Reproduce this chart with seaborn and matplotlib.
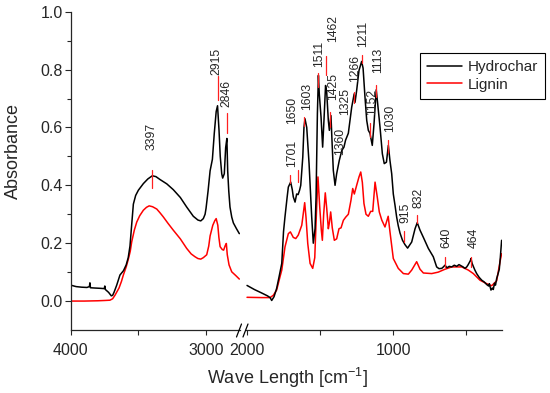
import numpy as np
import pandas as pd
import matplotlib
matplotlib.use("Agg")
import matplotlib.pyplot as plt
import seaborn as sns

sns.set_style("ticks")
plt.rcParams['font.family'] = ['Liberation Sans', 'DejaVu Sans']
plt.rcParams['mathtext.default'] = 'regular'

# ---------------- data : left part (4000 - 2750 cm-1) ----------------
hyd_left_wn = [4000, 3960, 3920, 3880, 3862, 3858, 3854, 3820, 3780, 3752, 3748, 3744,
               3720, 3700, 3690, 3680, 3660, 3636, 3610, 3590, 3575, 3562, 3550, 3537,
               3520, 3500, 3463, 3430, 3397, 3370, 3340, 3290, 3242, 3190, 3143, 3094,
               3060, 3039, 3020, 3007, 3000, 2985, 2970, 2953, 2939, 2925, 2915, 2904,
               2895, 2884, 2877, 2865, 2855, 2846, 2840, 2832, 2823, 2810, 2798, 2775, 2754]
hyd_left_abs = [0.055, 0.050, 0.048, 0.047, 0.050, 0.063, 0.046, 0.045, 0.044, 0.043, 0.052, 0.040,
                0.030, 0.018, 0.020, 0.030, 0.055, 0.090, 0.105, 0.125, 0.150, 0.190, 0.260, 0.335,
                0.365, 0.383, 0.406, 0.422, 0.433, 0.430, 0.420, 0.405, 0.385, 0.358, 0.325, 0.293,
                0.280, 0.277, 0.285, 0.300, 0.320, 0.380, 0.450, 0.490, 0.580, 0.655, 0.675, 0.590,
                0.500, 0.440, 0.425, 0.440, 0.530, 0.562, 0.450, 0.380, 0.325, 0.290, 0.270, 0.250, 0.233]

lig_left_wn = [4000, 3900, 3800, 3750, 3710, 3690, 3673, 3655, 3643, 3625, 3611, 3590, 3574,
               3560, 3549, 3530, 3512, 3490, 3463, 3440, 3420, 3395, 3364, 3340, 3316, 3280,
               3242, 3190, 3143, 3110, 3081, 3060, 3039, 3020, 2995, 2980, 2970, 2950, 2935,
               2925, 2913, 2905, 2896, 2880, 2870, 2858, 2850, 2843, 2830, 2810, 2780, 2754]
lig_left_abs = [0.000, 0.000, 0.001, 0.002, 0.003, 0.008, 0.020, 0.035, 0.045, 0.068, 0.090, 0.118, 0.145,
                0.172, 0.205, 0.245, 0.273, 0.295, 0.314, 0.324, 0.329, 0.326, 0.318, 0.305, 0.291, 0.268,
                0.245, 0.215, 0.182, 0.163, 0.153, 0.147, 0.145, 0.150, 0.160, 0.190, 0.225, 0.262, 0.278,
                0.285, 0.262, 0.220, 0.188, 0.178, 0.176, 0.192, 0.199, 0.160, 0.125, 0.101, 0.088, 0.076]

# ---------------- data : right part (2000 - 250 cm-1) ----------------
hyd_right_wn = [2000, 1950, 1900, 1860, 1842, 1831, 1815, 1797, 1780, 1762, 1750, 1740, 1725, 1717,
                1701, 1690, 1683, 1671, 1660, 1650, 1640, 1632, 1618, 1610, 1603, 1591, 1575, 1557,
                1546, 1534, 1527, 1518, 1511, 1505, 1493, 1482, 1473, 1462, 1454, 1443, 1436, 1425,
                1418, 1409, 1397, 1386, 1368, 1351, 1336, 1325, 1306, 1283, 1266, 1260, 1249, 1233,
                1215, 1205, 1192, 1180, 1169, 1158, 1142, 1130, 1115, 1105, 1089, 1073, 1060, 1045,
                1032, 1021, 1009, 998, 986, 975, 964, 952, 935, 918, 900, 872, 849, 834, 815, 792,
                758, 724, 701, 685, 666, 655, 644, 630, 615, 598, 580, 564, 548, 534, 520, 507, 495,
                486, 470, 466, 458, 450, 440, 427, 410, 392, 375, 358, 345, 340, 329, 320, 313, 305,
                298, 290, 280, 272, 265, 256]
hyd_right_abs = [0.054, 0.040, 0.028, 0.018, 0.012, 0.002, 0.015, 0.044, 0.085, 0.130, 0.240, 0.291, 0.360, 0.394,
                 0.411, 0.385, 0.360, 0.342, 0.370, 0.368, 0.383, 0.400, 0.498, 0.600, 0.630, 0.600, 0.475, 0.291,
                 0.200, 0.250, 0.360, 0.647, 0.780, 0.716, 0.636, 0.532, 0.624, 0.745, 0.720, 0.624, 0.590, 0.641,
                 0.555, 0.452, 0.400, 0.440, 0.486, 0.520, 0.532, 0.556, 0.580, 0.670, 0.716, 0.687, 0.728, 0.797,
                 0.828, 0.805, 0.705, 0.624, 0.590, 0.580, 0.538, 0.613, 0.730, 0.682, 0.601, 0.509, 0.475, 0.480,
                 0.538, 0.486, 0.440, 0.370, 0.330, 0.290, 0.260, 0.235, 0.210, 0.195, 0.183, 0.204, 0.250, 0.271, 0.245, 0.220,
                 0.182, 0.153, 0.118, 0.112, 0.113, 0.118, 0.124, 0.115, 0.120, 0.118, 0.124, 0.120, 0.126, 0.122, 0.118, 0.113, 0.118,
                 0.125, 0.140, 0.147, 0.130, 0.120, 0.108, 0.095, 0.082, 0.072, 0.066, 0.057, 0.052, 0.060, 0.038, 0.045, 0.040, 0.062,
                 0.055, 0.078, 0.095, 0.110, 0.150, 0.210]

lig_right_wn = [2000, 1900, 1842, 1820, 1797, 1774, 1762, 1740, 1717, 1703, 1683, 1666, 1649, 1625,
                1605, 1596, 1584, 1568, 1550, 1536, 1523, 1514, 1502, 1491, 1484, 1475, 1464, 1454,
                1443, 1436, 1427, 1416, 1402, 1386, 1370, 1356, 1340, 1324, 1306, 1288, 1276, 1265,
                1249, 1233, 1221, 1210, 1199, 1185, 1169, 1153, 1139, 1123, 1108, 1094, 1077, 1055,
                1033, 1021, 998, 964, 929, 895, 872, 838, 815, 792, 735, 690, 644, 598, 529, 484,
                450, 404, 358, 324, 290, 267, 256]
lig_right_abs = [0.013, 0.012, 0.012, 0.020, 0.038, 0.084, 0.107, 0.187, 0.233, 0.239, 0.220, 0.216, 0.228, 0.262,
                 0.340, 0.290, 0.199, 0.130, 0.113, 0.150, 0.325, 0.429, 0.325, 0.245, 0.210, 0.300, 0.374, 0.320,
                 0.250, 0.270, 0.308, 0.253, 0.210, 0.215, 0.250, 0.253, 0.279, 0.290, 0.300, 0.348, 0.389, 0.370,
                 0.400, 0.429, 0.446, 0.410, 0.337, 0.300, 0.293, 0.310, 0.310, 0.411, 0.360, 0.308, 0.280, 0.256,
                 0.293, 0.240, 0.147, 0.113, 0.095, 0.093, 0.107, 0.136, 0.110, 0.097, 0.095, 0.100, 0.110, 0.118, 0.118, 0.107,
                 0.095, 0.072, 0.060, 0.053, 0.070, 0.136, 0.164]

# ---------------- peak labels ----------------
left_labels = ['3397', '2915', '2846']
left_text_wn = [3401, 2921, 2847]
left_text_y = [0.522, 0.781, 0.671]
left_mark_lo = [0.391, 0.695, 0.581]
left_mark_hi = [0.453, 0.778, 0.650]

right_labels = ['1701', '1650', '1603', '1511', '1462', '1425', '1360', '1325', '1266',
                '1211', '1152', '1113', '1030', '915', '832', '640', '464']
right_text_wn = [1694, 1694, 1591, 1505, 1409, 1409, 1363, 1329, 1260,
                 1208, 1146, 1101, 1021, 913, 827, 632, 450]
right_text_y = [0.463, 0.612, 0.660, 0.809, 0.895, 0.695, 0.505, 0.643, 0.757,
                0.878, 0.643, 0.788, 0.584, 0.270, 0.321, 0.183, 0.183]
right_mark_wn = [1703, 1653, 1610, 1516, 1459, 1432, None, None, 1267,
                 1214, 1158, 1118, 1034, 923, 834, 644, 468]
right_mark_lo = [0.408, 0.411, 0.605, 0.740, 0.781, 0.601, None, None, 0.684,
                 0.823, 0.567, 0.705, 0.512, 0.204, 0.270, 0.118, 0.118]
right_mark_hi = [0.436, 0.453, 0.636, 0.788, 0.847, 0.653, None, None, 0.722,
                 0.850, 0.615, 0.747, 0.557, 0.242, 0.297, 0.152, 0.152]

# ---------------- figure ----------------
W, H = 550, 393
fig = plt.figure(figsize=(W / 100, H / 100), dpi=100)


def px_box(x0, x1, y0, y1):
    return [x0 / W, 1 - y1 / H, (x1 - x0) / W, (y1 - y0) / H]


ax_l = fig.add_axes(px_box(70.7, 240, 11.7, 330))
ax_r = fig.add_axes(px_box(246, 502.5, 11.7, 330))

df_hl = pd.DataFrame({'wn': hyd_left_wn, 'abs': hyd_left_abs})
df_ll = pd.DataFrame({'wn': lig_left_wn, 'abs': lig_left_abs})
df_hr = pd.DataFrame({'wn': hyd_right_wn, 'abs': hyd_right_abs})
df_lr = pd.DataFrame({'wn': lig_right_wn, 'abs': lig_right_abs})

sns.lineplot(data=df_ll, x='wn', y='abs', ax=ax_l, color='#ff0000', lw=1.1,
             estimator=None, sort=False)
sns.lineplot(data=df_hl, x='wn', y='abs', ax=ax_l, color='black', lw=1.1,
             estimator=None, sort=False)
sns.lineplot(data=df_lr, x='wn', y='abs', ax=ax_r, color='#ff0000', lw=1.1,
             estimator=None, sort=False, label='Lignin')
sns.lineplot(data=df_hr, x='wn', y='abs', ax=ax_r, color='black', lw=1.1,
             estimator=None, sort=False, label='Hydrochar')

# peak annotations
for lab, tx, ty, lo, hi in zip(left_labels, left_text_wn, left_text_y, left_mark_lo, left_mark_hi):
    ax_l.plot([int(lab), int(lab)], [lo, hi], color='#ff2020', lw=0.9)
    ax_l.text(tx, ty, lab, rotation=90, ha='center', va='bottom', fontsize=8.8)

for lab, tx, ty, mx, lo, hi in zip(right_labels, right_text_wn, right_text_y,
                                   right_mark_wn, right_mark_lo, right_mark_hi):
    if mx is not None:
        ax_r.plot([mx, mx], [lo, hi], color='#ff2020', lw=0.9)
    ax_r.text(tx, ty, lab, rotation=90, ha='center', va='bottom', fontsize=8.8)

# axes setup
ax_l.set_xlim(4000, 2749)
ax_r.set_xlim(2007, 250)
for ax in (ax_l, ax_r):
    ax.set_ylim(-0.1, 1.0)
    ax.set_xlabel('')
    ax.set_ylabel('')
    ax.spines['top'].set_visible(False)
    ax.spines['right'].set_visible(False)
    ax.spines['bottom'].set_linewidth(0.9)
    ax.spines['left'].set_linewidth(0.9)
    ax.tick_params(axis='x', which='both', direction='out', length=3.5, width=0.8,
                   labelsize=11.5, pad=6)

ax_l.set_xticks([4000, 3000])
ax_l.set_xticks([3500], minor=True)
ax_r.set_xticks([2000, 1000])
ax_r.set_xticks([1500, 500], minor=True)

ax_l.set_yticks(np.arange(0, 1.01, 0.2))
ax_l.set_yticks([0.1, 0.3, 0.5, 0.7, 0.9], minor=True)
ax_l.set_yticklabels(['0.0', '0.2', '0.4', '0.6', '0.8', '1.0'])
ax_l.tick_params(axis='y', which='major', direction='out', length=4.2, width=0.8,
                 labelsize=11.5, pad=1.5)
ax_l.tick_params(axis='y', which='minor', direction='out', length=3.2, width=0.8)

ax_r.spines['left'].set_visible(False)
ax_r.tick_params(axis='y', which='both', left=False, labelleft=False)

# axis break marks
for x0 in (236.5, 243.0):
    fig.add_artist(plt.Line2D([x0 / W, (x0 + 5) / W], [1 - 337 / H, 1 - 324 / H],
                              transform=fig.transFigure, color='black', lw=0.9))

# labels
fig.text(287 / W, 1 - 378 / H, 'Wave Length [cm$^{-1}$]', ha='center', va='center', fontsize=13)
fig.text(13.5 / W, 1 - 151 / H, 'Absorbance', rotation=90, ha='center', va='center', fontsize=13)

# legend
handles, labels = ax_r.get_legend_handles_labels()
order = [labels.index('Hydrochar'), labels.index('Lignin')]
leg = ax_r.legend([handles[i] for i in order], [labels[i] for i in order],
                  loc='upper right', bbox_to_anchor=(545 / W, 1 - 53 / H),
                  bbox_transform=fig.transFigure, borderaxespad=0, frameon=True,
                  fancybox=False, edgecolor='black', framealpha=1, fontsize=11,
                  handlelength=2.3, handletextpad=0.35, borderpad=0.45, labelspacing=0.25)
leg.get_frame().set_linewidth(0.8)

fig.savefig('out.png', dpi=100)
